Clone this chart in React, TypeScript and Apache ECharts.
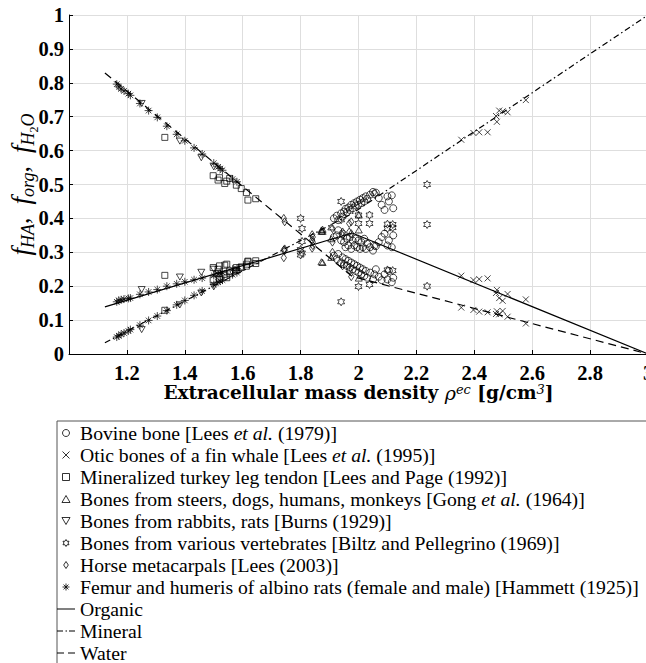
import React, { useEffect, useRef } from 'react';
import * as echarts from 'echarts';

// ---------- data ----------
// Bovine bone [Lees et al. (1979)]
const bovineRho = [1.915, 1.925, 1.93, 1.94, 1.945, 1.95, 1.955, 1.96, 1.965, 1.97, 1.975, 1.98, 1.985, 1.99, 1.995, 2.0, 2.005, 2.01, 2.015, 2.02, 2.025, 2.03, 2.04, 2.05, 2.055, 2.06, 2.07, 2.08, 2.09, 2.1, 2.105, 2.115, 2.12];
const bovineHA = [0.4, 0.408, 0.395, 0.415, 0.405, 0.42, 0.428, 0.418, 0.432, 0.425, 0.44, 0.43, 0.445, 0.438, 0.45, 0.44, 0.455, 0.445, 0.46, 0.45, 0.465, 0.458, 0.47, 0.478, 0.472, 0.476, 0.46, 0.44, 0.425, 0.465, 0.45, 0.468, 0.43];
const bovineOrg = [0.345, 0.35, 0.365, 0.335, 0.355, 0.33, 0.315, 0.34, 0.32, 0.345, 0.31, 0.335, 0.32, 0.34, 0.315, 0.335, 0.31, 0.33, 0.315, 0.34, 0.31, 0.325, 0.315, 0.305, 0.32, 0.318, 0.33, 0.345, 0.355, 0.32, 0.335, 0.315, 0.35];
const bovineWater = [0.29, 0.28, 0.295, 0.27, 0.285, 0.265, 0.28, 0.26, 0.275, 0.255, 0.27, 0.25, 0.265, 0.245, 0.26, 0.24, 0.255, 0.235, 0.25, 0.23, 0.245, 0.225, 0.24, 0.22, 0.235, 0.25, 0.228, 0.218, 0.235, 0.22, 0.245, 0.212, 0.225];

// Otic bones of a fin whale [Lees et al. (1995)]
const whaleRho = [2.355, 2.397, 2.417, 2.446, 2.475, 2.478, 2.486, 2.498, 2.515, 2.578];
const whaleHA = [0.632, 0.652, 0.654, 0.654, 0.702, 0.685, 0.718, 0.716, 0.713, 0.749];
const whaleOrg = [0.231, 0.218, 0.221, 0.223, 0.18, 0.189, 0.165, 0.157, 0.177, 0.161];
const whaleWater = [0.137, 0.13, 0.125, 0.123, 0.118, 0.126, 0.117, 0.127, 0.11, 0.09];

// Mineralized turkey leg tendon [Lees and Page (1992)]
const turkeyRho = [1.331, 1.498, 1.515, 1.52, 1.538, 1.545, 1.555, 1.578, 1.595, 1.613, 1.618, 1.645];
const turkeyHA = [0.129, 0.219, 0.237, 0.22, 0.235, 0.225, 0.237, 0.247, 0.255, 0.259, 0.274, 0.267];
const turkeyOrg = [0.232, 0.255, 0.25, 0.26, 0.262, 0.265, 0.245, 0.255, 0.257, 0.265, 0.272, 0.275];
const turkeyWater = [0.639, 0.526, 0.513, 0.52, 0.503, 0.51, 0.518, 0.498, 0.488, 0.476, 0.454, 0.458];

// Bones from steers, dogs, humans, monkeys [Gong et al. (1964)]
const gongRho = [1.872, 1.876, 1.906, 2.001];
const gongHA = [0.362, 0.368, 0.375, 0.41];
const gongOrg = [0.366, 0.362, 0.34, 0.366];
const gongWater = [0.272, 0.27, 0.285, 0.224];

// Bones from rabbits, rats [Burns (1929)]
const burnsRho = [1.251, 1.383, 1.457, 1.5];
const burnsHA = [0.072, 0.145, 0.18, 0.198];
const burnsOrg = [0.19, 0.227, 0.241, 0.25];
const burnsWater = [0.739, 0.628, 0.579, 0.552];

// Bones from various vertebrates [Biltz and Pellegrino (1969)]
const biltzRho = [1.8, 1.805, 1.94, 2.0, 2.038, 2.1, 2.118, 2.237];
const biltzHA = [0.4, 0.37, 0.45, 0.41, 0.41, 0.37, 0.373, 0.5];
const biltzOrg = [0.292, 0.298, 0.396, 0.385, 0.385, 0.383, 0.382, 0.382];
const biltzWater = [0.308, 0.332, 0.154, 0.199, 0.205, 0.248, 0.246, 0.2];

// Horse metacarpals [Lees (2003)]
const horseRho = [1.742, 1.745, 1.84, 1.842, 1.91, 1.945, 1.968, 1.975];
const horseHA = [0.284, 0.31, 0.352, 0.345, 0.37, 0.36, 0.385, 0.39];
const horseOrg = [0.307, 0.305, 0.312, 0.32, 0.33, 0.35, 0.36, 0.355];
const horseWater = [0.4, 0.39, 0.336, 0.33, 0.3, 0.26, 0.248, 0.228];

// Femur and humeris of albino rats [Hammett (1925)]
const ratRho = [1.165, 1.172, 1.18, 1.19, 1.205, 1.212, 1.245, 1.275, 1.305, 1.338, 1.372, 1.4, 1.432, 1.46, 1.5, 1.515, 1.522, 1.53, 1.565, 1.58];
const ratHA = [0.05, 0.054, 0.058, 0.062, 0.068, 0.072, 0.085, 0.099, 0.112, 0.128, 0.145, 0.158, 0.173, 0.186, 0.205, 0.212, 0.215, 0.218, 0.234, 0.24];
const ratOrg = [0.154, 0.158, 0.16, 0.162, 0.164, 0.165, 0.176, 0.183, 0.19, 0.2, 0.207, 0.213, 0.219, 0.224, 0.232, 0.236, 0.238, 0.24, 0.25, 0.252];
const ratWater = [0.796, 0.788, 0.782, 0.776, 0.768, 0.763, 0.739, 0.718, 0.698, 0.672, 0.648, 0.629, 0.608, 0.59, 0.563, 0.552, 0.547, 0.542, 0.516, 0.508];

// Model lines (bilinear relations)
const organicLine = [[1.124, 0.139], [1.978, 0.357], [3.0, 0.0]];
const mineralLine = [[1.124, 0.033], [1.978, 0.414], [3.0, 1.0]];
const waterLine = [[1.124, 0.829], [1.978, 0.229], [3.0, 0.0]];

const legendNames = [
  'Bovine bone [Lees et al. (1979)]',
  'Otic bones of a fin whale [Lees et al. (1995)]',
  'Mineralized turkey leg tendon [Lees and Page (1992)]',
  'Bones from steers, dogs, humans, monkeys [Gong et al. (1964)]',
  'Bones from rabbits, rats [Burns (1929)]',
  'Bones from various vertebrates [Biltz and Pellegrino (1969)]',
  'Horse metacarpals [Lees (2003)]',
  'Femur and humeris of albino rats (female and male) [Hammett (1925)]',
];
const lineNames = ['Organic', 'Mineral', 'Water'];

// ---------- symbols ----------
const SYM_CIRCLE = 'circle';
const SYM_X = 'path://M0,0L10,10M10,0L0,10';
const SYM_SQUARE = 'path://M0,0h10v10h-10z';
const SYM_TRIUP = 'path://M5,0L10,8.66L0,8.66Z';
const SYM_TRIDOWN = 'path://M0,0L10,0L5,8.66Z';
const SYM_HEX = 'path://M5,0L6.443,2.5L9.33,2.5L7.887,5L9.33,7.5L6.443,7.5L5,10L3.557,7.5L0.67,7.5L2.113,5L0.67,2.5L3.557,2.5Z';
const SYM_DIAMOND = 'path://M4,0L8,6L4,12L0,6Z';
const SYM_STAR = 'path://M5,0L5,10M0,5L10,5M1.5,1.5L8.5,8.5M8.5,1.5L1.5,8.5';

const serif = '"Liberation Serif", "Times New Roman", serif';
const cmSerif = '"DejaVu Serif", serif';

function triplets(rho: number[], a: number[], b: number[], c: number[]) {
  return [
    ...rho.map((r, i) => [r, a[i]]),
    ...rho.map((r, i) => [r, b[i]]),
    ...rho.map((r, i) => [r, c[i]]),
  ];
}

function scatter(name: string, symbol: string, data: number[][], size = 7) {
  return {
    type: 'scatter',
    name,
    symbol,
    symbolSize: size,
    symbolKeepAspect: true,
    itemStyle: { color: 'rgba(0,0,0,0)', borderColor: '#000', borderWidth: 0.9 },
    data,
    z: 3,
  };
}

function lineSeries(name: string, data: number[][], type: any) {
  return {
    type: 'line',
    name,
    data,
    symbol: 'none',
    lineStyle: { color: '#000', width: 1.2, type },
    itemStyle: { color: '#000' },
    z: 4,
  };
}

export default function App() {
  const ref = useRef<HTMLDivElement>(null);

  useEffect(() => {
    if (!ref.current) return;
    const chart = echarts.init(ref.current, null, { renderer: 'svg' });

    const scatterSymbols = [SYM_CIRCLE, SYM_X, SYM_SQUARE, SYM_TRIUP, SYM_TRIDOWN, SYM_HEX, SYM_DIAMOND, SYM_STAR];
    const scatterData = [
      triplets(bovineRho, bovineHA, bovineOrg, bovineWater),
      triplets(whaleRho, whaleHA, whaleOrg, whaleWater),
      triplets(turkeyRho, turkeyHA, turkeyOrg, turkeyWater),
      triplets(gongRho, gongHA, gongOrg, gongWater),
      triplets(burnsRho, burnsHA, burnsOrg, burnsWater),
      triplets(biltzRho, biltzHA, biltzOrg, biltzWater),
      triplets(horseRho, horseHA, horseOrg, horseWater),
      triplets(ratRho, ratHA, ratOrg, ratWater),
    ];
    const sizes = [7, 6, 6, 7, 7, 8, 8, 8];

    const series: any[] = legendNames.map((n, i) => scatter(n, scatterSymbols[i], scatterData[i], sizes[i]));
    series.push(lineSeries('Organic', organicLine, 'solid'));
    series.push(lineSeries('Mineral', mineralLine, [6, 3, 1.5, 3]));
    series.push(lineSeries('Water', waterLine, [8, 5]));

    const lineIcons = [
      'path://M0,0h18v1h-18z',
      'path://M0,0h6v1h-6zM8.5,0h1.5v1h-1.5zM12,0h6v1h-6z',
      'path://M0,0h7v1h-7zM11,0h7v1h-7z',
    ];

    const legendData: any[] = [
      ...legendNames.map((n, i) => ({
        name: n,
        icon: scatterSymbols[i],
        itemStyle: { color: 'rgba(0,0,0,0)', borderColor: '#000', borderWidth: 1 },
      })),
      ...lineNames.map((n, i) => ({
        name: n,
        icon: lineIcons[i],
        itemStyle: { color: '#000', borderWidth: 0 },
      })),
    ];

    const axisLabelStyle = {
      fontFamily: serif,
      fontWeight: 'bold',
      fontSize: 20.5,
      color: '#000',
    };

    const option: any = {
      animation: false,
      backgroundColor: '#fff',
      textStyle: { fontFamily: serif },
      grid: { left: 69, top: 15, width: 579, height: 339, containLabel: false, outerBoundsMode: 'none' },
      xAxis: {
        type: 'value',
        min: 1,
        max: 3,
        interval: 0.2,
        axisLine: { show: true, onZero: false, lineStyle: { color: '#000', width: 1 } },
        axisTick: { show: true, inside: true, length: 4, lineStyle: { color: '#000' } },
        splitLine: { show: true, lineStyle: { color: '#dedede', width: 1 } },
        axisLabel: {
          ...axisLabelStyle,
          margin: 8,
          showMinLabel: false,
          formatter: (v: number) => String(Math.round(v * 10) / 10),
        },
        name: '{b|Extracellular mass density }{r|ρ}{p|ec}{b| [g/cm}{p|3}{b|]}',
        nameLocation: 'middle',
        nameMoveOverlap: false,
        nameGap: 29,
        nameTextStyle: {
          rich: {
            b: { fontFamily: cmSerif, fontWeight: 'bold', fontSize: 18.5, lineHeight: 22, verticalAlign: 'top', color: '#000' },
            r: { fontFamily: cmSerif, fontStyle: 'italic', fontSize: 19, lineHeight: 22, verticalAlign: 'top', color: '#000' },
            p: { fontFamily: cmSerif, fontStyle: 'italic', fontSize: 13, lineHeight: 13, verticalAlign: 'top', color: '#000' },
          },
        },
      },
      yAxis: {
        type: 'value',
        min: 0,
        max: 1,
        interval: 0.1,
        axisLine: { show: true, onZero: false, lineStyle: { color: '#000', width: 1 } },
        axisTick: { show: true, inside: true, length: 4, lineStyle: { color: '#000' } },
        splitLine: { show: true, lineStyle: { color: '#dedede', width: 1 } },
        axisLabel: {
          ...axisLabelStyle,
          margin: 5,
          formatter: (v: number) => String(Math.round(v * 10) / 10),
        },
        name: '{f|f}{s|HA}{c|,  }{f|f}{s|org}{c|,  }{f|f}{s|H}{t|2}{s|O}',
        nameLocation: 'middle',
        nameRotate: 90,
        nameMoveOverlap: false,
        nameGap: 32,
        nameTextStyle: {
          rich: {
            f: { fontFamily: serif, fontStyle: 'italic', fontSize: 27, lineHeight: 30, verticalAlign: 'top', color: '#000' },
            c: { fontFamily: serif, fontSize: 26, lineHeight: 30, verticalAlign: 'top', color: '#000' },
            s: { fontFamily: serif, fontStyle: 'italic', fontSize: 18, lineHeight: 18, padding: [12, 0, 0, 0], verticalAlign: 'top', color: '#000' },
            t: { fontFamily: serif, fontSize: 12, lineHeight: 12, padding: [21, 0, 0, 0], verticalAlign: 'top', color: '#000' },
          },
        },
      },
      legend: {
        orient: 'vertical',
        left: 57,
        top: 421,
        height: 300,
        padding: [2, 14, 2, 0],
        itemGap: 2,
        itemWidth: 18,
        itemHeight: 7,
        selectedMode: false,
        backgroundColor: '#fff',
        borderColor: '#555',
        borderWidth: 1,
        borderRadius: 0,
        textStyle: {
          fontFamily: serif,
          fontSize: 19.7,
          color: '#000',
          rich: {
            n: { fontFamily: serif, fontSize: 19.7, lineHeight: 22, color: '#000' },
            i: { fontFamily: serif, fontStyle: 'italic', fontSize: 19.7, lineHeight: 22, color: '#000' },
          },
        },
        formatter: (name: string) =>
          name
            .split('et al.')
            .map((p) => (p ? `{n|${p}}` : ''))
            .join('{i|et al.}'),
        data: legendData,
      },
      series,
    };

    chart.setOption(option);
    return () => chart.dispose();
  }, []);

  return (
    <div
      ref={ref}
      style={{ position: 'absolute', left: 0, top: 0, width: 646, height: 663, background: '#fff' }}
    />
  );
}
